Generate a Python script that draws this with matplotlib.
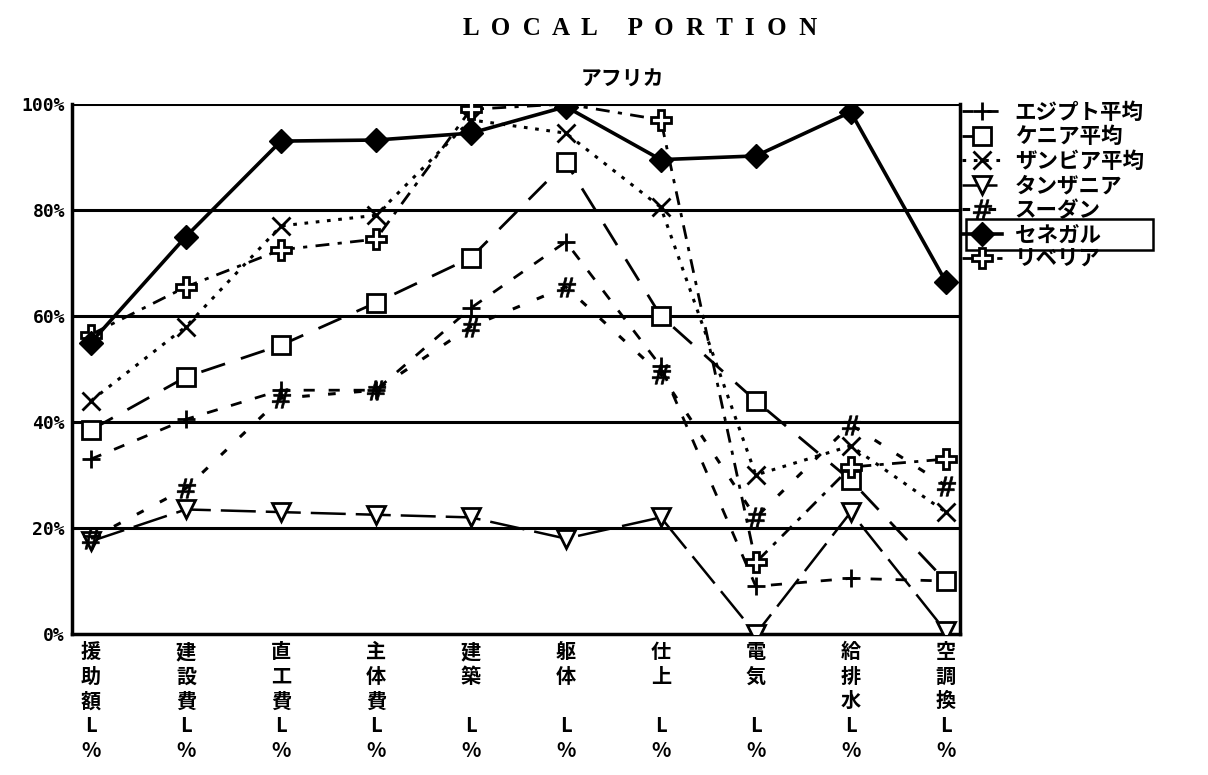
import matplotlib
matplotlib.use("Agg")
import matplotlib.pyplot as plt
from matplotlib.patches import Rectangle

plt.rcParams['font.family'] = ['Noto Sans CJK JP', 'DejaVu Sans']

categories = ["援\n助\n額\nL\n%", "建\n設\n費\nL\n%", "直\n工\n費\nL\n%", "主\n体\n費\nL\n%",
              "建\n築\n\nL\n%", "躯\n体\n\nL\n%", "仕\n上\n\nL\n%", "電\n気\n\nL\n%",
              "給\n排\n水\nL\n%", "空\n調\n換\nL\n%"]

egypt    = [33, 40.5, 46, 46, 61.5, 74, 50.5, 9, 10.5, 10]
kenya    = [38.5, 48.5, 54.5, 62.5, 71, 89, 60, 44, 29, 10]
zambia   = [44, 58, 77, 79, 97, 94.5, 80.5, 30, 35.5, 23]
tanzania = [17.5, 23.5, 23, 22.5, 22, 18, 22, 0, 23, 0.5]
sudan    = [18, 27.5, 44.5, 46, 58, 65.5, 49, 22, 39.5, 28]
senegal  = [55, 75, 93, 93.2, 94.5, 99.5, 89.5, 90.2, 98.5, 66.5]
liberia  = [56.5, 65.5, 72.5, 74.5, 99, 100, 97, 13.5, 31.5, 33]

series_names = ["エジプト平均", "ケニア平均", "ザンビア平均", "タンザニア", "スーダン", "セネガル", "リベリア"]
yticks = [0, 20, 40, 60, 80, 100]
ytick_labels = ["0%", "20%", "40%", "60%", "80%", "100%"]

fig = plt.figure(figsize=(12.08, 7.75), dpi=100)
ax = fig.add_axes([72/1208, 1-634/775, (960-72)/1208, (634-104)/775])

x = list(range(len(categories)))
styles = [
    dict(ls=(0, (4, 5)), marker='+', ms=13, mew=2, mfc='none', lw=2),
    dict(ls=(0, (9, 6)), marker='s', ms=13, mew=2, mfc='white', lw=2),
    dict(ls=(0, (1.2, 2.5)), marker='x', ms=13, mew=2, mfc='none', lw=2.2),
    dict(ls=(0, (14, 4)), marker='v', ms=13, mew=2, mfc='white', lw=1.8),
    dict(ls=(0, (2.5, 6)), marker='$\\#$', ms=14, mew=0.5, lw=2.2),
    dict(ls='-', marker='D', ms=12, mew=1, mfc='black', lw=2.6),
    dict(ls=(0, (5, 3, 1.5, 3)), marker='P', ms=14, mew=2, mfc='white', lw=2),
]
data = [egypt, kenya, zambia, tanzania, sudan, senegal, liberia]
handles = []
for name, vals, st in zip(series_names, data, styles):
    ln, = ax.plot(x, vals, color='black', label=name, zorder=3 if name != "セネガル" else 4, **st)
    handles.append(ln)

for y in yticks[1:]:
    ax.axhline(y, color='black', lw=2.2, zorder=1)

ax.set_ylim(0, 100)
ax.set_xlim(-0.2, 9.15)
ax.set_yticks(yticks)
ax.set_yticklabels(ytick_labels, fontsize=13, fontweight='bold', family=['DejaVu Sans Mono', 'DejaVu Sans'])
ax.set_xticks(x)
ax.set_xticklabels(categories, fontsize=14.5, fontweight='bold', linespacing=1.22)
ax.tick_params(axis='both', length=0, pad=5)
for s in ax.spines.values():
    s.set_linewidth(2.5)
ax.spines['top'].set_visible(False)

fig.text(0.53, 0.963, "L  O  C  A  L     P  O  R  T  I  O  N", ha='center', va='center',
         fontsize=18, family=['Liberation Serif', 'DejaVu Serif'], fontweight='bold')
fig.text(0.515, 0.898, "アフリカ", ha='center', va='center', fontsize=15, fontweight='bold')

leg = fig.legend(handles=handles, loc='upper left', bbox_to_anchor=(962/1208, 1-102/775),
                 frameon=False, fontsize=15.5, handlelength=1.85, handletextpad=0.6,
                 labelspacing=0.16, borderaxespad=0, borderpad=0)
for t in leg.get_texts():
    t.set_fontweight('bold')

# box around the highlighted Senegal entry
fig.canvas.draw()
inv = fig.transFigure.inverted()
tb = leg.get_texts()[5].get_window_extent()
(x0, y0) = inv.transform((966, tb.y0 - 5))
(x1, y1) = inv.transform((1153, tb.y1 + 5))
fig.patches.append(Rectangle((x0, y0), x1 - x0, y1 - y0,
                             transform=fig.transFigure, fill=False, lw=1.8, ec='black'))

fig.savefig("out.png", dpi=100, facecolor='white')
